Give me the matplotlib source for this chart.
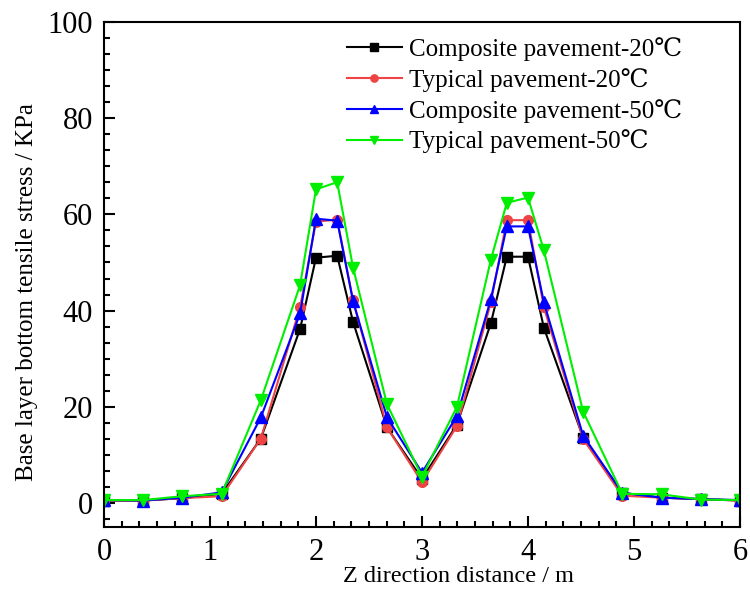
import numpy as np
import matplotlib.pyplot as plt
from matplotlib.ticker import AutoMinorLocator, MultipleLocator

x = [0, 0.37, 0.74, 1.11, 1.48, 1.85, 2.0, 2.2, 2.35, 2.67, 3.0,
     3.33, 3.65, 3.8, 4.0, 4.15, 4.52, 4.89, 5.26, 5.63, 6.0]

comp_20 = [0.5, 0.5, 1.0, 1.9, 13.4, 36.2, 51.0, 51.4, 37.6, 15.7, 5.0,
           16.3, 37.4, 51.2, 51.2, 36.4, 13.6, 2.1, 1.1, 0.8, 0.5]
typ_20 = [0.5, 0.5, 1.0, 1.4, 13.4, 40.7, 58.5, 58.9, 42.1, 15.7, 4.3,
          16.0, 41.7, 58.8, 58.8, 40.7, 13.3, 1.5, 1.1, 0.8, 0.5]
comp_50 = [0.6, 0.5, 1.1, 2.2, 17.8, 39.4, 59.1, 58.7, 41.9, 17.8, 6.3,
           18.1, 42.4, 57.5, 57.5, 41.7, 14.0, 2.1, 1.1, 0.8, 0.6]
typ_50 = [0.6, 0.6, 1.4, 1.9, 21.4, 45.3, 65.2, 66.7, 48.9, 20.5, 5.5,
          20.0, 50.6, 62.4, 63.5, 52.5, 19.0, 1.9, 1.8, 0.7, 0.6]

labels = ['Composite pavement-20\u2103', 'Typical pavement-20\u2103',
          'Composite pavement-50\u2103', 'Typical pavement-50\u2103']

plt.rcParams['font.family'] = ['Liberation Serif', 'DejaVu Serif']

fig = plt.figure(figsize=(7.5, 5.94), dpi=100)
ax = fig.add_axes([104/750, 1-527/594, 636/750, 505/594])

ax.plot(x, comp_20, color='black', marker='s', ms=7, lw=1.5, label=labels[0])
ax.plot(x, typ_20, color='#ee4444', marker='o', ms=7, lw=1.5, label=labels[1])
ax.plot(x, comp_50, color='#0000ff', marker='^', ms=8, lw=1.5, label=labels[2])
ax.plot(x, typ_50, color='#00ee00', marker='v', ms=8, lw=1.5, label=labels[3])

ax.set_xlim(0, 6)
ax.set_ylim(-5, 100)
ax.xaxis.set_major_locator(MultipleLocator(1))
ax.yaxis.set_major_locator(MultipleLocator(20))
ax.xaxis.set_minor_locator(AutoMinorLocator(6))
ax.yaxis.set_minor_locator(AutoMinorLocator(6))
ax.tick_params(which='both', direction='in', top=False, right=False,
               width=1.5, labelsize=22)
ax.tick_params(which='major', length=8, pad=8)
ax.tick_params(which='minor', length=4)
for s in ax.spines.values():
    s.set_linewidth(1.5)

ax.set_xlabel('Z direction distance / m', fontsize=17.5)
ax.set_ylabel('Base layer bottom tensile stress / KPa', fontsize=18)
ax.xaxis.set_label_coords(0.558, -0.077)
ax.yaxis.set_label_coords(-0.104, 0.466)

ax.legend(loc='upper left', frameon=False, fontsize=18, handlelength=2.2,
          labelspacing=0.28, handletextpad=0.3, markerscale=0.75,
          borderaxespad=0, bbox_to_anchor=(0.366, 0.99))

fig.savefig('out.png', dpi=100)
